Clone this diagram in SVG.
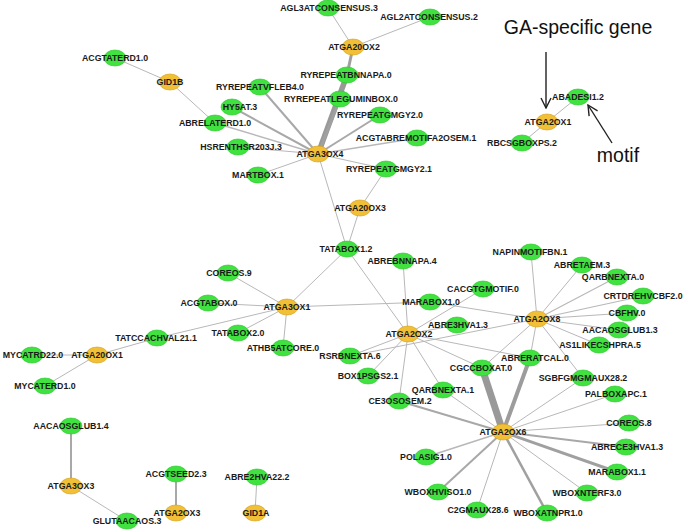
<svg xmlns="http://www.w3.org/2000/svg" width="685" height="530" viewBox="0 0 685 530">
<style>
.e{stroke:#b8b8b8;stroke-width:1;fill:none}
.w2{stroke:#a8a8a8;stroke-width:2}
.w3{stroke:#a0a0a0;stroke-width:3}
.w4{stroke:#9c9c9c;stroke-width:4}
.w5{stroke:#999;stroke-width:5.5}
.w7{stroke:#999;stroke-width:7}
.m use{fill:#3fe23f;stroke:#2cc42c;stroke-width:0.6}
.g use{fill:#f2c037;stroke:#d09e1c;stroke-width:0.6}
text.l{font-family:"Liberation Sans",Arial,sans-serif;font-weight:bold;font-size:8.8px;fill:#1a1a1a;text-anchor:middle}
text.a{font-family:"Liberation Sans",Arial,sans-serif;font-size:19.5px;fill:#111;text-anchor:middle}
.arr{stroke:#222;stroke-width:1.4;fill:none}
</style>
<defs>
<marker id="open" viewBox="0 0 12 12" refX="11" refY="6" markerWidth="12" markerHeight="12" markerUnits="userSpaceOnUse" orient="auto">
<path d="M1,1 L11,6 L1,11" fill="none" stroke="#222" stroke-width="1.4"/>
</marker>
<ellipse id="nd" cx="0" cy="0" rx="11" ry="8"/>
</defs>
<rect width="685" height="530" fill="#fff"/>
<g id="connectors">
<line class="e" x1="353" y1="47" x2="328" y2="8"/>
<line class="e" x1="353" y1="47" x2="430" y2="17"/>
<line class="e w3" x1="353" y1="47" x2="347" y2="75"/>
<line class="e" x1="170" y1="82" x2="115" y2="58"/>
<line class="e" x1="170" y1="82" x2="215" y2="123"/>
<line class="e w5" x1="318" y1="154" x2="347" y2="75"/>
<line class="e w3" x1="318" y1="154" x2="340" y2="99"/>
<line class="e w2" x1="318" y1="154" x2="260" y2="87"/>
<line class="e w2" x1="318" y1="154" x2="232" y2="107"/>
<line class="e" x1="318" y1="154" x2="215" y2="123" style="stroke-width:1.5"/>
<line class="e" x1="318" y1="154" x2="238" y2="147"/>
<line class="e" x1="318" y1="154" x2="258" y2="175"/>
<line class="e w2" x1="318" y1="154" x2="380" y2="115"/>
<line class="e" x1="318" y1="154" x2="417" y2="138" style="stroke-width:1.5"/>
<line class="e" x1="318" y1="154" x2="386" y2="169"/>
<line class="e" x1="318" y1="154" x2="347" y2="249"/>
<line class="e" x1="360" y1="208" x2="386" y2="169"/>
<line class="e" x1="360" y1="208" x2="347" y2="249"/>
<line class="e" x1="287" y1="307" x2="347" y2="249"/>
<line class="e" x1="287" y1="307" x2="228" y2="273"/>
<line class="e" x1="287" y1="307" x2="208" y2="303"/>
<line class="e" x1="287" y1="307" x2="238" y2="333"/>
<line class="e" x1="287" y1="307" x2="283" y2="348"/>
<line class="e" x1="287" y1="307" x2="157" y2="338"/>
<line class="e" x1="287" y1="307" x2="430" y2="302"/>
<line class="e" x1="97" y1="355" x2="157" y2="338"/>
<line class="e" x1="97" y1="355" x2="32" y2="355"/>
<line class="e" x1="97" y1="355" x2="45" y2="386"/>
<line class="e" x1="408" y1="334" x2="347" y2="249"/>
<line class="e" x1="408" y1="334" x2="403" y2="261"/>
<line class="e" x1="408" y1="334" x2="483" y2="289"/>
<line class="e" x1="408" y1="334" x2="457" y2="325"/>
<line class="e" x1="408" y1="334" x2="530" y2="358"/>
<line class="e" x1="408" y1="334" x2="482" y2="368"/>
<line class="e" x1="408" y1="334" x2="443" y2="390"/>
<line class="e" x1="408" y1="334" x2="399" y2="401"/>
<line class="e" x1="408" y1="334" x2="368" y2="376"/>
<line class="e" x1="408" y1="334" x2="350" y2="356"/>
<line class="e" x1="537" y1="319" x2="531" y2="252"/>
<line class="e" x1="537" y1="319" x2="582" y2="265"/>
<line class="e" x1="537" y1="319" x2="617" y2="277" style="stroke-width:1.2"/>
<line class="e" x1="537" y1="319" x2="643" y2="296" style="stroke-width:1.2"/>
<line class="e" x1="537" y1="319" x2="627" y2="313"/>
<line class="e" x1="537" y1="319" x2="619" y2="330"/>
<line class="e" x1="537" y1="319" x2="599" y2="345"/>
<line class="e" x1="537" y1="319" x2="430" y2="302"/>
<line class="e" x1="537" y1="319" x2="350" y2="356"/>
<line class="e" x1="537" y1="319" x2="530" y2="358"/>
<line class="e" x1="537" y1="319" x2="482" y2="368"/>
<line class="e" x1="537" y1="319" x2="583" y2="378"/>
<line class="e w7" x1="503" y1="432" x2="482" y2="368"/>
<line class="e w4" x1="503" y1="432" x2="530" y2="358"/>
<line class="e" x1="503" y1="432" x2="583" y2="378"/>
<line class="e" x1="503" y1="432" x2="615" y2="394"/>
<line class="e" x1="503" y1="432" x2="629" y2="423"/>
<line class="e w2" x1="503" y1="432" x2="626" y2="447"/>
<line class="e w3" x1="503" y1="432" x2="617" y2="472"/>
<line class="e" x1="503" y1="432" x2="587" y2="493"/>
<line class="e" x1="503" y1="432" x2="547" y2="513" style="stroke:#a0a0a0;stroke-width:2.5"/>
<line class="e" x1="503" y1="432" x2="477" y2="510"/>
<line class="e w2" x1="503" y1="432" x2="438" y2="492"/>
<line class="e" x1="503" y1="432" x2="426" y2="457" style="stroke-width:1.5"/>
<line class="e w2" x1="503" y1="432" x2="399" y2="401"/>
<line class="e" x1="503" y1="432" x2="443" y2="390"/>
<line class="e" x1="547" y1="122" x2="578" y2="97"/>
<line class="e" x1="547" y1="122" x2="522" y2="143"/>
<line class="e w2" x1="71" y1="486" x2="71" y2="426"/>
<line class="e" x1="71" y1="486" x2="127" y2="521"/>
<line class="e w2" x1="176" y1="513" x2="176" y2="474"/>
<line class="e" x1="255" y1="513" x2="257" y2="477"/>
</g>
<g id="annotations">
<text class="a" x="578" y="34">GA-specific gene</text>
<line class="arr" x1="546" y1="52" x2="546" y2="108" marker-end="url(#open)"/>
<text class="a" x="618" y="162">motif</text>
<line class="arr" x1="612" y1="143" x2="588" y2="105" marker-end="url(#open)"/>
</g>
<g id="nodes">
<g id="n-ATGA20OX2" class="g"><use href="#nd" x="353" y="47"/><text class="l" x="354" y="50">ATGA20OX2</text></g>
<g id="n-GID1B" class="g"><use href="#nd" x="170" y="82"/><text class="l" x="170" y="85">GID1B</text></g>
<g id="n-ATGA3OX4" class="g"><use href="#nd" x="318" y="154"/><text class="l" x="320" y="157">ATGA3OX4</text></g>
<g id="n-ATGA20OX3" class="g"><use href="#nd" x="360" y="208"/><text class="l" x="360" y="211">ATGA20OX3</text></g>
<g id="n-ATGA3OX1" class="g"><use href="#nd" x="287" y="307"/><text class="l" x="287" y="310">ATGA3OX1</text></g>
<g id="n-ATGA20OX1" class="g"><use href="#nd" x="97" y="355"/><text class="l" x="97" y="358">ATGA20OX1</text></g>
<g id="n-ATGA2OX2" class="g"><use href="#nd" x="408" y="334"/><text class="l" x="409" y="337">ATGA2OX2</text></g>
<g id="n-ATGA2OX8" class="g"><use href="#nd" x="537" y="319"/><text class="l" x="537" y="322">ATGA2OX8</text></g>
<g id="n-ATGA2OX6" class="g"><use href="#nd" x="503" y="432"/><text class="l" x="503" y="435">ATGA2OX6</text></g>
<g id="n-ATGA2OX1" class="g"><use href="#nd" x="547" y="122"/><text class="l" x="548" y="125">ATGA2OX1</text></g>
<g id="n-ATGA3OX3" class="g"><use href="#nd" x="71" y="486"/><text class="l" x="71" y="489">ATGA3OX3</text></g>
<g id="n-ATGA2OX3" class="g"><use href="#nd" x="176" y="513"/><text class="l" x="177" y="516">ATGA2OX3</text></g>
<g id="n-GID1A" class="g"><use href="#nd" x="255" y="513"/><text class="l" x="256" y="516">GID1A</text></g>

<g id="n-AGL3ATCONSENSUS.3" class="m"><use href="#nd" x="328" y="8"/><text class="l" x="329" y="11">AGL3ATCONSENSUS.3</text></g>
<g id="n-AGL2ATCONSENSUS.2" class="m"><use href="#nd" x="430" y="17"/><text class="l" x="429" y="20">AGL2ATCONSENSUS.2</text></g>
<g id="n-ACGTATERD1.0" class="m"><use href="#nd" x="115" y="58"/><text class="l" x="115" y="61">ACGTATERD1.0</text></g>
<g id="n-RYREPEATBNNAPA.0" class="m"><use href="#nd" x="347" y="75"/><text class="l" x="346" y="78">RYREPEATBNNAPA.0</text></g>
<g id="n-RYREPEATVFLEB4.0" class="m"><use href="#nd" x="260" y="87"/><text class="l" x="260" y="90">RYREPEATVFLEB4.0</text></g>
<g id="n-RYREPEATLEGUMINBOX.0" class="m"><use href="#nd" x="340" y="99"/><text class="l" x="341" y="102">RYREPEATLEGUMINBOX.0</text></g>
<g id="n-HY5AT.3" class="m"><use href="#nd" x="232" y="107"/><text class="l" x="240" y="110">HY5AT.3</text></g>
<g id="n-ABRELATERD1.0" class="m"><use href="#nd" x="215" y="123"/><text class="l" x="215" y="126">ABRELATERD1.0</text></g>
<g id="n-RYREPEATGMGY2.0" class="m"><use href="#nd" x="380" y="115"/><text class="l" x="380" y="118">RYREPEATGMGY2.0</text></g>
<g id="n-ACGTABREMOTIFA2OSEM.1" class="m"><use href="#nd" x="417" y="138"/><text class="l" x="416" y="141">ACGTABREMOTIFA2OSEM.1</text></g>
<g id="n-HSRENTHSR203J.3" class="m"><use href="#nd" x="238" y="147"/><text class="l" x="241" y="150">HSRENTHSR203J.3</text></g>
<g id="n-RYREPEATGMGY2.1" class="m"><use href="#nd" x="386" y="169"/><text class="l" x="389" y="172">RYREPEATGMGY2.1</text></g>
<g id="n-MARTBOX.1" class="m"><use href="#nd" x="258" y="175"/><text class="l" x="258" y="178">MARTBOX.1</text></g>
<g id="n-ABADESI1.2" class="m"><use href="#nd" x="578" y="97"/><text class="l" x="578" y="100">ABADESI1.2</text></g>
<g id="n-RBCSGBOXPS.2" class="m"><use href="#nd" x="522" y="143"/><text class="l" x="522" y="146">RBCSGBOXPS.2</text></g>
<g id="n-TATABOX1.2" class="m"><use href="#nd" x="347" y="249"/><text class="l" x="346" y="252">TATABOX1.2</text></g>
<g id="n-ABREBNNAPA.4" class="m"><use href="#nd" x="403" y="261"/><text class="l" x="402" y="264">ABREBNNAPA.4</text></g>
<g id="n-COREOS.9" class="m"><use href="#nd" x="228" y="273"/><text class="l" x="229" y="276">COREOS.9</text></g>
<g id="n-ACGTABOX.0" class="m"><use href="#nd" x="208" y="303"/><text class="l" x="209" y="306">ACGTABOX.0</text></g>
<g id="n-MARABOX1.0" class="m"><use href="#nd" x="430" y="302"/><text class="l" x="431" y="305">MARABOX1.0</text></g>
<g id="n-CACGTGMOTIF.0" class="m"><use href="#nd" x="483" y="289"/><text class="l" x="483" y="292">CACGTGMOTIF.0</text></g>
<g id="n-NAPINMOTIFBN.1" class="m"><use href="#nd" x="531" y="252"/><text class="l" x="530" y="255">NAPINMOTIFBN.1</text></g>
<g id="n-ABRETAEM.3" class="m"><use href="#nd" x="582" y="265"/><text class="l" x="582" y="268">ABRETAEM.3</text></g>
<g id="n-QARBNEXTA.0" class="m"><use href="#nd" x="617" y="277"/><text class="l" x="613" y="280">QARBNEXTA.0</text></g>
<g id="n-CRTDREHVCBF2.0" class="m"><use href="#nd" x="643" y="296"/><text class="l" x="643" y="299">CRTDREHVCBF2.0</text></g>
<g id="n-CBFHV.0" class="m"><use href="#nd" x="627" y="313"/><text class="l" x="627" y="316">CBFHV.0</text></g>
<g id="n-AACAOSGLUB1.3" class="m"><use href="#nd" x="619" y="330"/><text class="l" x="620" y="333">AACAOSGLUB1.3</text></g>
<g id="n-AS1LIKECSHPRA.5" class="m"><use href="#nd" x="599" y="345"/><text class="l" x="600" y="348">AS1LIKECSHPRA.5</text></g>
<g id="n-ABRE3HVA1.3" class="m"><use href="#nd" x="457" y="325"/><text class="l" x="458" y="328">ABRE3HVA1.3</text></g>
<g id="n-TATABOX2.0" class="m"><use href="#nd" x="238" y="333"/><text class="l" x="238" y="336">TATABOX2.0</text></g>
<g id="n-TATCCACHVAL21.1" class="m"><use href="#nd" x="157" y="338"/><text class="l" x="156" y="341">TATCCACHVAL21.1</text></g>
<g id="n-MYCATRD22.0" class="m"><use href="#nd" x="32" y="355"/><text class="l" x="33" y="358">MYCATRD22.0</text></g>
<g id="n-ATHB5ATCORE.0" class="m"><use href="#nd" x="283" y="348"/><text class="l" x="283" y="351">ATHB5ATCORE.0</text></g>
<g id="n-RSRBNEXTA.6" class="m"><use href="#nd" x="350" y="356"/><text class="l" x="350" y="359">RSRBNEXTA.6</text></g>
<g id="n-BOX1PSGS2.1" class="m"><use href="#nd" x="368" y="376"/><text class="l" x="368" y="379">BOX1PSGS2.1</text></g>
<g id="n-ABRERATCAL.0" class="m"><use href="#nd" x="530" y="358"/><text class="l" x="535" y="361">ABRERATCAL.0</text></g>
<g id="n-CGCCBOXAT.0" class="m"><use href="#nd" x="482" y="368"/><text class="l" x="481" y="371">CGCCBOXAT.0</text></g>
<g id="n-SGBFGMGMAUX28.2" class="m"><use href="#nd" x="583" y="378"/><text class="l" x="583" y="381">SGBFGMGMAUX28.2</text></g>
<g id="n-QARBNEXTA.1" class="m"><use href="#nd" x="443" y="390"/><text class="l" x="443" y="393">QARBNEXTA.1</text></g>
<g id="n-PALBOXAPC.1" class="m"><use href="#nd" x="615" y="394"/><text class="l" x="616" y="397">PALBOXAPC.1</text></g>
<g id="n-CE3OSOSEM.2" class="m"><use href="#nd" x="399" y="401"/><text class="l" x="400" y="404">CE3OSOSEM.2</text></g>
<g id="n-MYCATERD1.0" class="m"><use href="#nd" x="45" y="386"/><text class="l" x="45" y="389">MYCATERD1.0</text></g>
<g id="n-COREOS.8" class="m"><use href="#nd" x="629" y="423"/><text class="l" x="629" y="426">COREOS.8</text></g>
<g id="n-AACAOSGLUB1.4" class="m"><use href="#nd" x="71" y="426"/><text class="l" x="71" y="429">AACAOSGLUB1.4</text></g>
<g id="n-ABRECE3HVA1.3" class="m"><use href="#nd" x="626" y="447"/><text class="l" x="627" y="450">ABRECE3HVA1.3</text></g>
<g id="n-POLASIG1.0" class="m"><use href="#nd" x="426" y="457"/><text class="l" x="426" y="460">POLASIG1.0</text></g>
<g id="n-MARABOX1.1" class="m"><use href="#nd" x="617" y="472"/><text class="l" x="617" y="475">MARABOX1.1</text></g>
<g id="n-ABRE2HVA22.2" class="m"><use href="#nd" x="257" y="477"/><text class="l" x="257" y="480">ABRE2HVA22.2</text></g>
<g id="n-ACGTSEED2.3" class="m"><use href="#nd" x="176" y="474"/><text class="l" x="176" y="477">ACGTSEED2.3</text></g>
<g id="n-WBOXHVISO1.0" class="m"><use href="#nd" x="438" y="492"/><text class="l" x="438" y="495">WBOXHVISO1.0</text></g>
<g id="n-WBOXNTERF3.0" class="m"><use href="#nd" x="587" y="493"/><text class="l" x="587" y="496">WBOXNTERF3.0</text></g>
<g id="n-C2GMAUX28.6" class="m"><use href="#nd" x="477" y="510"/><text class="l" x="478" y="513">C2GMAUX28.6</text></g>
<g id="n-WBOXATNPR1.0" class="m"><use href="#nd" x="547" y="513"/><text class="l" x="548" y="516">WBOXATNPR1.0</text></g>
<g id="n-GLUTAACAOS.3" class="m"><use href="#nd" x="127" y="521"/><text class="l" x="127" y="524">GLUTAACAOS.3</text></g>
</g>
</svg>
